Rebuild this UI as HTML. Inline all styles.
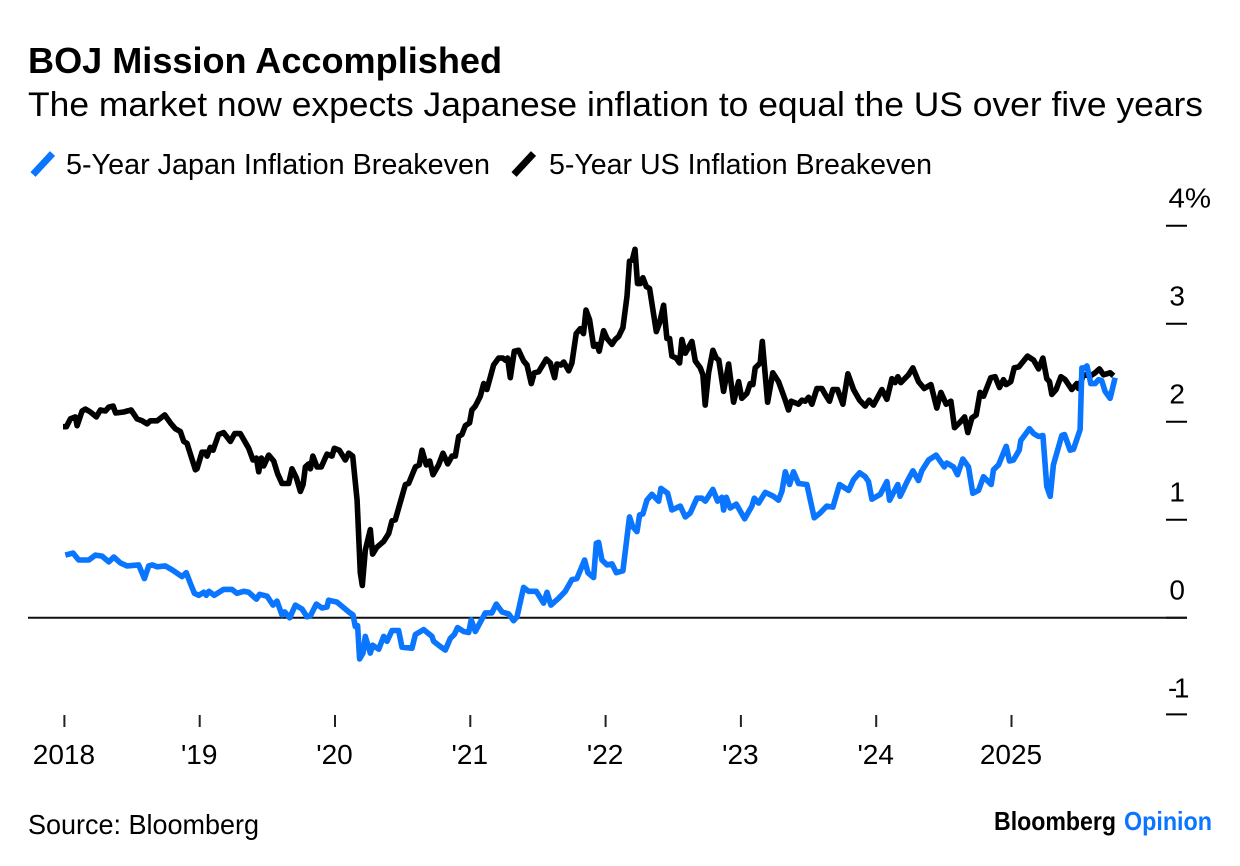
<!DOCTYPE html>
<html lang="en">
<head>
<meta charset="utf-8">
<title>BOJ Mission Accomplished</title>
<style>
html,body{margin:0;padding:0;background:#fff;}
body{width:1240px;height:866px;overflow:hidden;}
svg{display:block;}
text{font-family:"Liberation Sans",sans-serif;fill:#000;}
</style>
</head>
<body>
<svg id="chart" xmlns="http://www.w3.org/2000/svg" width="1240" height="866" viewBox="0 0 1240 866">
  <rect x="0" y="0" width="1240" height="866" fill="#fff"/>
  <text x="28" y="73" font-size="36.5" font-weight="700" textLength="474" lengthAdjust="spacingAndGlyphs">BOJ Mission Accomplished</text>
  <text x="28" y="116" font-size="34.5" textLength="1175" lengthAdjust="spacingAndGlyphs">The market now expects Japanese inflation to equal the US over five years</text>
  <line x1="33" y1="174.5" x2="52.5" y2="153.5" stroke="#0a75ff" stroke-width="7"/>
  <text x="66" y="174" font-size="28.5" textLength="424" lengthAdjust="spacingAndGlyphs">5-Year Japan Inflation Breakeven</text>
  <line x1="514" y1="174.5" x2="533.5" y2="153.5" stroke="#000" stroke-width="7"/>
  <text x="549" y="174" font-size="28.5" textLength="383" lengthAdjust="spacingAndGlyphs">5-Year US Inflation Breakeven</text>
  <g id="y-axis"></g>
  <g id="x-axis"></g>
  <g id="series"></g>
  <text x="28" y="834" font-size="28" textLength="231" lengthAdjust="spacingAndGlyphs">Source: Bloomberg</text>
  <text x="994" y="830" font-size="26" font-weight="700" textLength="122" lengthAdjust="spacingAndGlyphs">Bloomberg</text>
  <text x="1124" y="830" font-size="26" font-weight="700" style="fill:#0a75ff" textLength="88" lengthAdjust="spacingAndGlyphs">Opinion</text>
</svg>
<script>
// Years since the start of 2018, percent values
const usYears = [-0.01,0.015,0.044,0.081,0.094,0.131,0.155,0.192,0.236,0.266,0.303,0.328,0.36,0.379,0.438,0.493,0.537,0.574,0.611,0.635,0.685,0.741,0.783,0.82,0.857,0.882,0.906,0.968,0.98,1.017,1.042,1.054,1.079,1.099,1.14,1.177,1.227,1.259,1.3,1.362,1.394,1.419,1.436,1.456,1.473,1.51,1.547,1.576,1.608,1.658,1.682,1.714,1.744,1.764,1.781,1.805,1.818,1.837,1.867,1.899,1.941,1.978,1.995,2.032,2.076,2.101,2.131,2.163,2.187,2.202,2.224,2.261,2.278,2.31,2.36,2.397,2.421,2.446,2.495,2.52,2.544,2.594,2.623,2.643,2.675,2.7,2.724,2.766,2.798,2.833,2.865,2.889,2.914,2.938,2.963,2.995,3.012,3.037,3.074,3.099,3.123,3.172,3.209,3.241,3.259,3.276,3.296,3.325,3.357,3.394,3.419,3.451,3.473,3.505,3.562,3.591,3.623,3.64,3.67,3.69,3.727,3.751,3.783,3.813,3.837,3.855,3.882,3.911,3.936,3.953,3.985,4.01,4.047,4.071,4.096,4.128,4.158,4.177,4.197,4.217,4.236,4.256,4.276,4.301,4.325,4.375,4.399,4.429,4.453,4.473,4.49,4.522,4.547,4.564,4.589,4.638,4.663,4.7,4.719,4.736,4.761,4.793,4.818,4.837,4.872,4.909,4.946,4.983,5.007,5.044,5.069,5.089,5.106,5.143,5.158,5.197,5.236,5.278,5.328,5.352,5.372,5.426,5.451,5.475,5.5,5.525,5.562,5.599,5.623,5.655,5.68,5.714,5.754,5.791,5.832,5.877,5.919,5.948,5.98,6.042,6.079,6.116,6.14,6.16,6.182,6.239,6.271,6.313,6.355,6.404,6.448,6.478,6.517,6.552,6.579,6.616,6.653,6.677,6.707,6.739,6.768,6.793,6.847,6.879,6.911,6.941,6.961,6.995,7.02,7.054,7.118,7.163,7.2,7.232,7.261,7.281,7.298,7.33,7.365,7.397,7.446,7.483,7.495,7.532,7.586,7.618,7.65,7.68,7.729,7.754];
const usValues = [1.95,1.95,2.03,2.05,1.96,2.11,2.13,2.1,2.05,2.12,2.11,2.15,2.16,2.09,2.1,2.12,2.03,2.01,1.98,2.01,2.01,2.07,1.99,1.93,1.9,1.8,1.78,1.51,1.52,1.69,1.69,1.65,1.74,1.71,1.87,1.89,1.8,1.88,1.88,1.73,1.61,1.63,1.49,1.63,1.55,1.66,1.6,1.47,1.37,1.37,1.52,1.43,1.29,1.36,1.54,1.57,1.52,1.65,1.54,1.54,1.67,1.65,1.73,1.71,1.61,1.68,1.65,1.2,0.46,0.33,0.69,0.9,0.65,0.72,0.78,0.86,0.99,1,1.24,1.36,1.37,1.54,1.56,1.71,1.56,1.6,1.46,1.56,1.68,1.57,1.65,1.65,1.85,1.87,1.96,1.99,2.12,2.16,2.26,2.39,2.33,2.58,2.65,2.65,2.63,2.65,2.45,2.72,2.73,2.62,2.58,2.39,2.5,2.51,2.64,2.6,2.45,2.59,2.58,2.61,2.52,2.6,2.9,2.95,2.9,3.14,3.04,2.77,2.79,2.72,2.93,2.85,2.79,2.84,2.87,2.96,3.28,3.64,3.65,3.76,3.41,3.41,3.47,3.38,3.36,2.92,3.01,3.19,2.85,2.85,2.67,2.65,2.6,2.84,2.7,2.82,2.62,2.55,2.48,2.17,2.5,2.73,2.65,2.63,2.31,2.59,2.2,2.41,2.24,2.29,2.39,2.38,2.55,2.6,2.82,2.2,2.5,2.41,2.22,2.12,2.21,2.18,2.22,2.21,2.25,2.18,2.34,2.34,2.28,2.21,2.33,2.33,2.18,2.49,2.33,2.22,2.16,2.22,2.17,2.33,2.23,2.44,2.4,2.46,2.4,2.48,2.55,2.41,2.34,2.38,2.14,2.3,2.18,2.21,1.94,1.99,2.05,1.89,2.04,2.07,2.3,2.26,2.45,2.46,2.35,2.43,2.38,2.41,2.55,2.56,2.67,2.63,2.54,2.65,2.44,2.41,2.28,2.33,2.46,2.43,2.33,2.39,2.34,2.48,2.47,2.5,2.54,2.48,2.5,2.47];
const japanYears = [0.007,0.064,0.106,0.18,0.229,0.278,0.328,0.365,0.414,0.463,0.549,0.591,0.623,0.648,0.685,0.746,0.796,0.869,0.901,0.931,0.961,0.993,1.03,1.049,1.067,1.108,1.177,1.239,1.276,1.325,1.362,1.419,1.443,1.498,1.542,1.571,1.608,1.628,1.665,1.707,1.756,1.793,1.818,1.862,1.904,1.941,1.953,2.015,2.101,2.133,2.15,2.167,2.182,2.207,2.224,2.261,2.278,2.323,2.36,2.384,2.421,2.47,2.495,2.569,2.594,2.655,2.717,2.729,2.766,2.815,2.852,2.882,2.906,2.951,2.988,3.007,3.037,3.111,3.16,3.192,3.234,3.283,3.32,3.345,3.394,3.431,3.488,3.542,3.567,3.596,3.653,3.702,3.751,3.788,3.845,3.869,3.911,3.931,3.948,3.973,4.01,4.047,4.079,4.128,4.177,4.2,4.232,4.251,4.276,4.305,4.342,4.392,4.409,4.458,4.49,4.552,4.589,4.626,4.675,4.712,4.737,4.793,4.828,4.86,4.872,4.892,4.921,4.966,5.027,5.081,5.099,5.131,5.18,5.241,5.278,5.303,5.328,5.36,5.389,5.426,5.488,5.542,5.586,5.635,5.68,5.729,5.796,5.833,5.877,5.919,5.943,5.968,6.03,6.079,6.099,6.16,6.177,6.232,6.271,6.313,6.337,6.387,6.443,6.503,6.522,6.571,6.601,6.64,6.682,6.714,6.756,6.793,6.85,6.867,6.904,6.961,6.985,7.015,7.057,7.069,7.133,7.163,7.2,7.232,7.261,7.286,7.31,7.372,7.392,7.433,7.458,7.507,7.52,7.544,7.557,7.586,7.618,7.643,7.667,7.692,7.729,7.766];
const japanValues = [0.64,0.66,0.59,0.59,0.64,0.63,0.57,0.62,0.56,0.53,0.54,0.4,0.53,0.54,0.52,0.53,0.49,0.42,0.46,0.35,0.25,0.23,0.26,0.23,0.27,0.23,0.29,0.29,0.25,0.27,0.26,0.19,0.24,0.22,0.13,0.17,0.03,0.06,0,0.13,0.09,0.01,0.02,0.14,0.1,0.11,0.18,0.16,0.06,0.03,-0.09,-0.08,-0.42,-0.36,-0.19,-0.36,-0.28,-0.32,-0.19,-0.24,-0.13,-0.13,-0.3,-0.31,-0.17,-0.12,-0.19,-0.24,-0.28,-0.33,-0.21,-0.17,-0.1,-0.14,-0.15,-0.02,-0.14,0.05,0.05,0.14,0.06,0.04,-0.03,0.01,0.31,0.27,0.27,0.15,0.26,0.13,0.2,0.27,0.39,0.4,0.59,0.46,0.41,0.76,0.77,0.59,0.54,0.55,0.46,0.48,1.03,0.93,0.88,1.05,1.06,1.2,1.26,1.19,1.32,1.27,1.1,1.14,1.03,1.07,1.22,1.22,1.19,1.31,1.19,1.23,1.1,1.23,1.12,1.16,1.01,1.14,1.22,1.17,1.28,1.24,1.2,1.29,1.49,1.36,1.49,1.37,1.36,1.02,1.07,1.14,1.13,1.36,1.3,1.41,1.48,1.44,1.39,1.21,1.26,1.39,1.2,1.36,1.24,1.4,1.5,1.4,1.5,1.61,1.66,1.54,1.58,1.54,1.46,1.62,1.54,1.27,1.3,1.44,1.36,1.51,1.56,1.75,1.6,1.61,1.71,1.81,1.93,1.88,1.85,1.86,1.34,1.24,1.56,1.86,1.87,1.71,1.72,1.92,2.55,2.55,2.57,2.39,2.39,2.43,2.42,2.31,2.24,2.45];
const yTickValues = [-1,0,1,2,3,4];
const yTickLabels = ['-1','0','1','2','3','4%'];
const xTickYears = [0,1,2,3,4,5,6,7];
const xTickLabels = ['2018',"'19","'20","'21","'22","'23","'24",'2025'];

const NS = 'http://www.w3.org/2000/svg';
function xScale(years){ return 64.4 + years * 135.3; }
function yScale(value){ return 617.8 - value * 98; }
function linePath(xs, ys){
  return xs.map(function(d, i){ return (i ? 'L' : 'M') + xScale(d).toFixed(1) + ' ' + yScale(ys[i]).toFixed(1); }).join('');
}

const yAxis = document.getElementById('y-axis');
yTickValues.forEach(function(v, i){
  const tickY = yScale(v) + (v < 0 ? -1.4 : 0);
  const tick = document.createElementNS(NS, 'line');
  
  
  tick.setAttribute('x1', 1166);
  tick.setAttribute('x2', 1187);
  tick.setAttribute('y1', tickY);
  tick.setAttribute('y2', tickY);
  tick.setAttribute('stroke', '#000');
  tick.setAttribute('stroke-width', 2);
  yAxis.appendChild(tick);
  const label = document.createElementNS(NS, 'text');
  
  
  label.setAttribute('y', yScale(v) - 18.5);
  label.setAttribute('font-size', 28);
  if (yTickLabels[i].length === 1) {
    label.setAttribute('x', 1185);
    label.setAttribute('text-anchor', 'end');
  } else if (v < 0) {
    label.setAttribute('x', 1168);
    label.setAttribute('letter-spacing', -3.5);
  } else {
    label.setAttribute('x', 1168.5);
    label.setAttribute('textLength', 42.5);
    label.setAttribute('lengthAdjust', 'spacingAndGlyphs');
  }
  label.textContent = yTickLabels[i];
  yAxis.appendChild(label);
});

const zeroLine = document.createElementNS(NS, 'line');


zeroLine.setAttribute('x1', 28);
zeroLine.setAttribute('x2', 1187);
zeroLine.setAttribute('y1', yScale(0));
zeroLine.setAttribute('y2', yScale(0));
zeroLine.setAttribute('stroke', '#111');
zeroLine.setAttribute('stroke-width', 2);
yAxis.appendChild(zeroLine);

const xAxis = document.getElementById('x-axis');
xTickYears.forEach(function(y, i){
  const tick = document.createElementNS(NS, 'line');
  
  
  tick.setAttribute('x1', xScale(y));
  tick.setAttribute('x2', xScale(y));
  tick.setAttribute('y1', 715);
  tick.setAttribute('y2', 727);
  tick.setAttribute('stroke', '#222');
  tick.setAttribute('stroke-width', 2);
  xAxis.appendChild(tick);
  const label = document.createElementNS(NS, 'text');
  
  
  label.setAttribute('x', xScale(y) - 0.5);
  label.setAttribute('y', 764);
  label.setAttribute('font-size', 28);
  label.setAttribute('text-anchor', 'middle');
  label.textContent = xTickLabels[i];
  xAxis.appendChild(label);
});

const series = document.getElementById('series');
const usLine = document.createElementNS(NS, 'path');


usLine.setAttribute('d', linePath(usYears, usValues));
usLine.setAttribute('fill', 'none');
usLine.setAttribute('stroke', '#000');
usLine.setAttribute('stroke-width', 5.6);
usLine.setAttribute('stroke-linejoin', 'round');
series.appendChild(usLine);
const japanLine = document.createElementNS(NS, 'path');


japanLine.setAttribute('d', linePath(japanYears, japanValues));
japanLine.setAttribute('fill', 'none');
japanLine.setAttribute('stroke', '#0a75ff');
japanLine.setAttribute('stroke-width', 5.6);
japanLine.setAttribute('stroke-linejoin', 'round');
series.appendChild(japanLine);
</script>
</body>
</html>
